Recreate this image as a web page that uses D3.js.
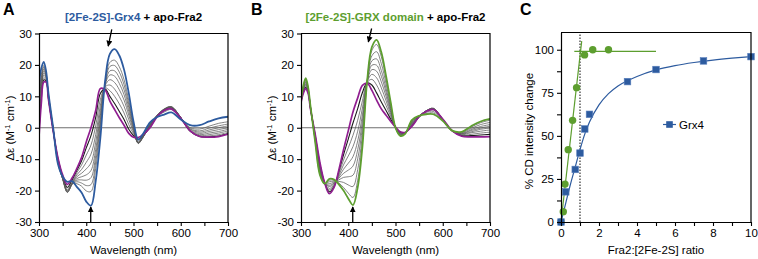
<!DOCTYPE html>
<html><head><meta charset="utf-8">
<script src="https://cdn.jsdelivr.net/npm/d3@7"></script>
<style>
body{margin:0;background:#fff}
svg{display:block}
text{font-family:"Liberation Sans",Arial,Helvetica,sans-serif}
</style>
</head><body>
<svg id="chart" width="758" height="259"></svg>
<script>
// ---------- DATA ----------
const wavelengths = [300,305,310,315,320,330,340,350,360,370,380,390,400,410,420,430,440,450,460,470,480,490,500,510,520,535,550,565,580,600,620,640,660,680,700];

// Panel A: [2Fe-2S]-Grx4 + apo-Fra2
const grx4Start = [-3,8,14.5,14.5,9,-1,-9.5,-15,-18,-16,-13,-9.5,-4.5,0,5.5,12.5,12,8.5,5.8,3.2,0.8,-1.8,-3,-3.1,-2.2,0,3.5,5.5,6,3,-1,-2.8,-3,-2.8,-2];
const grx4End = [14,19,21,18,11,0,-11.5,-15.5,-17.2,-17,-18.8,-20.6,-23.5,-24.8,-17,-3,15,23.5,25,23,18.5,11,2,-3.8,-2,1.7,3.4,4.2,4.9,2.6,0.8,0.8,2,3,3.5];
const grx4Step1 = [-1.3,9.1,15.2,14.9,9.2,-0.9,-9.7,-15.4,-19.0,-16.6,-13.6,-10.6,-6.4,-2.5,3.3,11.0,12.3,10.0,7.7,5.2,2.6,-0.5,-2.5,-3.7,-2.5,0.2,3.7,5.7,6.3,3.1,-1.1,-2.8,-2.9,-2.6,-1.8];
const grx4Step2 = [0.7,10.4,15.9,15.3,9.4,-0.8,-9.9,-15.8,-19.9,-17.3,-14.3,-11.9,-8.7,-5.5,0.6,9.1,12.7,11.8,10.0,7.6,4.7,1.0,-1.9,-4.3,-2.8,0.4,3.8,5.9,6.6,3.3,-1.2,-2.7,-2.6,-2.2,-1.5];
const grx4Step3 = [2.8,11.7,16.7,15.7,9.7,-0.7,-10.2,-16.1,-20.4,-17.7,-15.0,-13.3,-11.0,-8.4,-2.2,7.2,13.0,13.6,12.3,9.9,6.8,2.6,-1.3,-4.7,-3.0,0.6,4.0,6.0,6.7,3.3,-1.1,-2.5,-2.2,-1.7,-1.0];
const grx4Step4 = [4.7,13.0,17.4,16.1,9.9,-0.6,-10.4,-16.2,-20.6,-17.9,-15.6,-14.5,-13.1,-11.2,-4.6,5.5,13.4,15.3,14.4,12.1,8.8,4.0,-0.8,-4.9,-3.1,0.8,4.0,5.9,6.7,3.3,-1.0,-2.2,-1.7,-1.2,-0.5];
const grx4Step5 = [6.4,14.1,18.1,16.4,10.1,-0.5,-10.6,-16.3,-20.5,-18.0,-16.2,-15.6,-15.0,-13.6,-6.9,4.0,13.7,16.8,16.4,14.1,10.5,5.2,-0.3,-5.0,-3.1,0.9,3.9,5.8,6.6,3.3,-0.8,-1.8,-1.2,-0.6,0.0];
const grx4Step6 = [7.9,15.0,18.7,16.7,10.3,-0.4,-10.8,-16.2,-20.2,-18.0,-16.7,-16.6,-16.7,-15.9,-8.9,2.6,13.9,18.1,18.1,15.9,12.1,6.4,0.2,-4.9,-3.0,1.1,3.9,5.6,6.4,3.2,-0.5,-1.4,-0.7,0.0,0.6];
const grx4Step7 = [9.4,16.0,19.3,17.1,10.5,-0.3,-11.0,-16.2,-19.8,-17.9,-17.2,-17.6,-18.4,-18.1,-10.9,1.2,14.2,19.5,19.8,17.7,13.7,7.5,0.7,-4.8,-2.8,1.2,3.8,5.3,6.2,3.1,-0.3,-1.0,-0.1,0.6,1.2];
const grx4Step8 = [10.9,17.0,19.8,17.4,10.6,-0.2,-11.1,-16.0,-19.1,-17.7,-17.8,-18.6,-20.1,-20.3,-13.0,-0.2,14.5,20.8,21.5,19.4,15.3,8.7,1.1,-4.6,-2.6,1.4,3.7,5.0,5.8,3.0,0.0,-0.4,0.5,1.4,1.9];

// Panel B: [2Fe-2S]-GRX domain + apo-Fra2
const grxStart = [8,11,12.4,11,6,-2,-11,-17.5,-21,-19,-13.5,-7,-1,5,9.5,13.5,14.2,11.9,8.8,6,4,2,0.2,-1.3,-1.5,0.5,3.5,5.2,5.8,2.8,-1,-2.7,-2.9,-2.9,-2.8];
const grxEnd = [8.7,13.5,15.8,13,7,-4.5,-15,-17.8,-16.3,-16.5,-18,-20,-22.5,-24.6,-19,-6,15,25.7,28,24,16.5,8,0,-2.6,-2,2.5,3.8,4.3,4.3,2.2,-0.9,-1.3,0.5,2,2.8];
const grxStep1 = [8.1,11.3,12.8,11.2,6.1,-2.3,-11.5,-17.5,-20.4,-18.7,-14.0,-8.6,-3.6,1.5,6.1,11.2,14.3,13.6,11.1,8.2,5.5,2.7,0.2,-1.5,-1.6,0.7,3.5,5.3,6.0,2.7,-1.0,-2.5,-2.5,-2.3,-2.1];
const grxStep2 = [8.2,11.6,13.3,11.5,6.3,-2.6,-12.0,-17.6,-19.8,-18.4,-14.6,-10.3,-6.4,-2.4,2.4,8.6,14.4,15.4,13.6,10.5,7.1,3.5,0.2,-1.6,-1.6,1.0,3.6,5.4,6.2,2.7,-1.0,-2.4,-2.1,-1.7,-1.4];
const grxStep3 = [8.3,11.9,13.7,11.7,6.4,-2.9,-12.5,-17.6,-19.3,-18.1,-15.2,-11.8,-9.0,-6.0,-1.1,6.3,14.5,17.0,15.9,12.7,8.6,4.2,0.1,-1.8,-1.7,1.2,3.6,5.4,6.2,2.6,-1.0,-2.2,-1.6,-1.1,-0.7];
const grxStep4 = [8.3,12.2,14.0,12.0,6.5,-3.2,-12.9,-17.6,-18.7,-17.8,-15.7,-13.2,-11.3,-9.2,-4.2,4.1,14.6,18.5,18.0,14.6,10.0,4.9,0.1,-1.9,-1.7,1.5,3.6,5.4,6.1,2.5,-1.0,-2.0,-1.3,-0.5,-0.1];
const grxStep5 = [8.4,12.5,14.4,12.2,6.6,-3.5,-13.3,-17.7,-18.3,-17.6,-16.1,-14.5,-13.5,-12.2,-7.0,2.2,14.7,19.9,19.9,16.4,11.3,5.5,0.1,-2.1,-1.8,1.7,3.7,5.3,5.9,2.5,-1.0,-1.9,-0.9,-0.1,0.5];
const grxStep6 = [8.5,12.7,14.7,12.4,6.7,-3.7,-13.7,-17.7,-17.8,-17.3,-16.6,-15.8,-15.6,-15.1,-9.9,0.2,14.7,21.3,21.9,18.2,12.5,6.1,0.1,-2.2,-1.8,1.9,3.7,5.1,5.7,2.4,-1.0,-1.8,-0.6,0.4,1.0];
const grxStep7 = [8.6,13.0,15.1,12.6,6.8,-4.0,-14.2,-17.7,-17.2,-17.0,-17.1,-17.4,-18.2,-18.7,-13.3,-2.1,14.8,22.9,24.2,20.4,14.0,6.8,0.0,-2.3,-1.9,2.1,3.7,4.9,5.2,2.3,-1.0,-1.6,-0.2,1.0,1.7];
const grxStep8 = [8.6,13.3,15.5,12.8,6.9,-4.3,-14.7,-17.8,-16.7,-16.7,-17.6,-19.0,-20.8,-22.2,-16.7,-4.4,14.9,24.6,26.5,22.6,15.5,7.5,0.0,-2.5,-2.0,2.3,3.8,4.5,4.7,2.2,-1.0,-1.4,0.2,1.6,2.4];

// Panel C: titration
const ratioGrx4 = [0,0.25,0.75,1,1.25,1.5,3.5,5,7.5,10];
const cdGrx4 = [0,17.5,30.5,40,54,62.5,81.5,88.5,93.5,96];
const fitGrx4Ratio = [0,0.25,0.5,0.75,1,1.25,1.5,2,2.5,3,3.5,4,5,6,7,8,9,10];
const fitGrx4Cd = [0,11,22,32,42,51,58,68,74.5,79,82,84.5,88.3,90.8,92.6,94,95.1,96];
const ratioGrxDom = [0,0.12,0.21,0.38,0.61,0.82,1.24,1.67,2.5];
const cdGrxDom = [0,6,22,42,59,78,97,100,100];
const fitGrxRiseRatio = [0,1.09];
const fitGrxRiseCd = [0,105];
const fitGrxPlateauRatio = [0.7,5];
const fitGrxPlateauCd = [99,99];

// ticks
const specXTicks = [300,350,400,450,500,550,600,650,700];
const specYTicks = [-30,-20,-10,0,10,20,30];
const cXTicks = [0,1,2,3,4,5,6,7,8,9,10];
const cYTicks = [0,12.5,25,37.5,50,62.5,75,87.5,100];

// arrows [x1,y1,x2,y2] in data units
const arrowA = [[454,31.3,446.5,26],[409.5,-30,409.5,-25.2]];
const arrowB = [[449.5,31.6,442.5,27.3],[409.5,-30,409.5,-25.2]];

// ---------- STYLE ----------
const BLUE = "#2d5b9f", PURPLE = "#901e90", GREEN = "#5d9e2f";
const FS = "11.5px";

const svg = d3.select("#chart");
svg.append("defs").append("marker")
  .attr("id","ah").attr("viewBox","0 0 10 10").attr("refX",9).attr("refY",5)
  .attr("markerWidth",6).attr("markerHeight",6).attr("markerUnits","userSpaceOnUse")
  .attr("orient","auto")
  .append("path").attr("d","M0,0 L10,5 L0,10 Z").attr("fill","#000");

function styleAxis(g){
  g.selectAll("path.domain").attr("stroke","#000").attr("stroke-width",1.2);
  g.selectAll(".tick line").attr("stroke","#000").attr("stroke-width",1.1);
  g.selectAll("text").attr("font-size",FS).attr("fill","#000").attr("font-family",'"Liberation Sans",Arial,sans-serif');
  g.attr("font-size",null).attr("font-family",null);
}

function frame(g,x0,x1,y0,y1){
  g.append("path").attr("d",`M${x0},${y0}H${x1}V${y1}`).attr("fill","none").attr("stroke","#000").attr("stroke-width",1.2);
}

function spectraPanel(o){
  const x = d3.scaleLinear([300,700],[o.left,o.right]);
  const y = d3.scaleLinear([-30,30],[222,33.5]);
  const g = svg.append("g");
  const cid = "clip"+o.letter;
  svg.select("defs").append("clipPath").attr("id",cid).append("rect")
    .attr("x",x(300)).attr("y",y(30)).attr("width",x(700)-x(300)).attr("height",y(-30)-y(30));
  g.append("line").attr("x1",x(300)).attr("x2",x(700)).attr("y1",y(0)).attr("y2",y(0))
    .attr("stroke","#6e6e6e").attr("stroke-width",1.1);
  const line = d3.line().x((d,i)=>x(wavelengths[i])).y(d=>y(d)).curve(d3.curveCatmullRom.alpha(0.5));
  const cg = g.append("g").attr("clip-path",`url(#${cid})`);
  o.steps.forEach((s,i)=>{
    cg.append("path").attr("d",line(s)).attr("fill","none")
      .attr("stroke", i===0 ? "#1a1a1a" : "#5a5a5a").attr("stroke-width", i===0 ? 1.1 : 0.75);
  });
  cg.append("path").attr("d",line(o.start)).attr("fill","none").attr("stroke",PURPLE).attr("stroke-width",1.7);
  cg.append("path").attr("d",line(o.end)).attr("fill","none").attr("stroke",o.color).attr("stroke-width",1.8);

  const xa = g.append("g").attr("transform","translate(0,222)")
    .call(d3.axisBottom(x).tickValues(specXTicks).tickSize(4).tickSizeOuter(0).tickPadding(3)
      .tickFormat(d => d%100===0 ? String(d) : ""));
  styleAxis(xa);
  const ya = g.append("g").attr("transform",`translate(${o.left},0)`)
    .call(d3.axisLeft(y).tickValues(specYTicks).tickSize(4).tickSizeOuter(0).tickPadding(3)
      .tickFormat(d => String(d)));
  styleAxis(ya);
  frame(g,x(300),x(700),y(30),y(-30));

  o.arrows.forEach(a=>{
    g.append("line").attr("x1",x(a[0])).attr("y1",y(a[1])).attr("x2",x(a[2])).attr("y2",y(a[3]))
      .attr("stroke","#000").attr("stroke-width",1.3).attr("marker-end","url(#ah)");
  });

  // labels
  g.append("text").attr("x",(o.left+o.right)/2).attr("y",253.5).attr("text-anchor","middle")
    .attr("font-size",FS).text("Wavelength (nm)");
  const yl = g.append("text").attr("transform",`translate(${o.left-25},128) rotate(-90)`)
    .attr("text-anchor","middle").attr("font-size",FS);
  yl.append("tspan").text("Δε (M");
  yl.append("tspan").attr("font-size","7.5px").attr("dy","-4").text("-1");
  yl.append("tspan").attr("dy","4").text(" cm");
  yl.append("tspan").attr("font-size","7.5px").attr("dy","-4").text("-1");
  yl.append("tspan").attr("dy","4").text(")");

  const t = g.append("text").attr("x",(o.left+o.right)/2).attr("y",20.5).attr("text-anchor","middle")
    .attr("font-size",FS).attr("font-weight","bold");
  t.append("tspan").attr("fill",o.color).text(o.title);
  t.append("tspan").attr("fill","#000").text(" + apo-Fra2");
  svg.append("text").attr("x",o.letterX).attr("y",15).attr("font-size","16px").attr("font-weight","bold").text(o.letter);
}

spectraPanel({letter:"A",letterX:3,left:39,right:228,start:grx4Start,end:grx4End,
  steps:[grx4Step1,grx4Step2,grx4Step3,grx4Step4,grx4Step5,grx4Step6,grx4Step7,grx4Step8],
  color:BLUE,title:"[2Fe-2S]-Grx4",arrows:arrowA});
spectraPanel({letter:"B",letterX:251,left:301,right:490,start:grxStart,end:grxEnd,
  steps:[grxStep1,grxStep2,grxStep3,grxStep4,grxStep5,grxStep6,grxStep7,grxStep8],
  color:GREEN,title:"[2Fe-2S]-GRX domain",arrows:arrowB});

// ---------- Panel C ----------
(function(){
  const x = d3.scaleLinear([0,10],[561,751]);
  const y = d3.scaleLinear([0,110],[222,32.5]);
  const g = svg.append("g");
  g.append("line").attr("x1",x(1)).attr("x2",x(1)).attr("y1",y(0)).attr("y2",y(110))
    .attr("stroke","#333").attr("stroke-width",1.2).attr("stroke-dasharray","1.6,1.4");
  const lf = d3.line().x(d=>x(d[0])).y(d=>y(d[1]));
  g.append("path").attr("d",lf(d3.zip(fitGrxRiseRatio,fitGrxRiseCd))).attr("fill","none").attr("stroke",GREEN).attr("stroke-width",1.2);
  g.append("path").attr("d",lf(d3.zip(fitGrxPlateauRatio,fitGrxPlateauCd))).attr("fill","none").attr("stroke",GREEN).attr("stroke-width",1.2);
  g.append("path").attr("d",lf.curve(d3.curveMonotoneX)(d3.zip(fitGrx4Ratio,fitGrx4Cd))).attr("fill","none").attr("stroke",BLUE).attr("stroke-width",1.2);
  g.selectAll("circle.gd").data(d3.zip(ratioGrxDom,cdGrxDom)).join("circle")
    .attr("cx",d=>x(d[0])).attr("cy",d=>y(d[1])).attr("r",3.7).attr("fill",GREEN);
  g.selectAll("rect.g4").data(d3.zip(ratioGrx4,cdGrx4)).join("rect")
    .attr("x",d=>x(d[0])-3.3).attr("y",d=>y(d[1])-3.3).attr("width",6.6).attr("height",6.6)
    .attr("fill",BLUE).attr("stroke","#5a80bd").attr("stroke-width",0.6);

  const xa = g.append("g").attr("transform","translate(0,222)")
    .call(d3.axisBottom(x).tickValues(cXTicks).tickSize(4).tickSizeOuter(0).tickPadding(3)
      .tickFormat(d => d%2===0 ? String(d) : ""));
  styleAxis(xa);
  const ya = g.append("g").attr("transform","translate(561,0)")
    .call(d3.axisLeft(y).tickValues(cYTicks).tickSize(4).tickSizeOuter(0).tickPadding(3)
      .tickFormat(d => d%25===0 ? String(d) : ""));
  styleAxis(ya);
  frame(g,x(0),x(10),y(110),y(0));

  // legend
  g.append("line").attr("x1",663).attr("x2",676).attr("y1",124.5).attr("y2",124.5).attr("stroke",BLUE).attr("stroke-width",1.2);
  g.append("rect").attr("x",669.5-3.3).attr("y",124.5-3.3).attr("width",6.6).attr("height",6.6).attr("fill",BLUE);
  g.append("text").attr("x",679).attr("y",128.5).attr("font-size",FS).text("Grx4");

  g.append("text").attr("x",656).attr("y",253.5).attr("text-anchor","middle").attr("font-size",FS).text("Fra2:[2Fe-2S] ratio");
  g.append("text").attr("transform","translate(532.5,131) rotate(-90)").attr("text-anchor","middle")
    .attr("font-size",FS).text("% CD intensity change");
  svg.append("text").attr("x",520).attr("y",15).attr("font-size","16px").attr("font-weight","bold").text("C");
})();
</script>
</body></html>
